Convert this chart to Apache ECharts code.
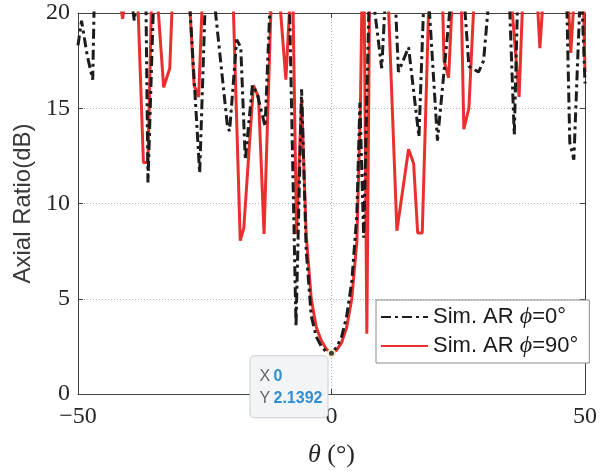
<!DOCTYPE html>
<html>
<head>
<meta charset="utf-8">
<script src="https://cdn.jsdelivr.net/npm/echarts@6/dist/echarts.min.js"></script>
<style>
  html, body { margin: 0; padding: 0; background: #fff; }
  #chart { width: 600px; height: 473px; }
</style>
</head>
<body>
<div id="chart"></div>
<script>
// Simulated axial ratio (dB) against elevation angle theta (deg).
// Samples above 20 dB run off the top of the plot and are clipped.
const arPhi0 = [
  [-50, 18.3], [-49.3, 19.6], [-48.2, 17.8], [-47.1, 16.5], [-46.8, 20.6],
  [-39.4, 20.6], [-38.9, 19.6], [-38.4, 20.6],
  [-36.6, 20.6], [-36.2, 11.1], [-35.1, 20.6],
  [-28.0, 20.6], [-26.0, 11.6], [-24.9, 20.6],
  [-23.1, 20.6], [-20.5, 14.0], [-20.1, 13.8], [-18.7, 18.6], [-17.9, 18.2],
  [-17.0, 12.3], [-15.6, 16.2], [-14.7, 15.8], [-13.1, 14.05], [-12.1, 20.6],
  [-8.3, 20.6], [-7.0, 3.55], [-5.9, 16.0], [-5.0, 7.6], [-4.0, 4.1],
  [-3.0, 3.0], [-2.0, 2.5], [-1.0, 2.2], [0, 2.1392], [1.0, 2.45],
  [2.0, 3.0], [3.0, 4.1], [4.0, 5.9], [5.0, 9.4], [5.6, 15.3],
  [6.35, 8.2], [7.4, 20.6],
  [8.3, 20.6], [9.9, 17.1], [10.6, 20.6],
  [12.6, 20.6], [13.2, 16.9], [15.2, 18.2], [17.25, 13.5], [18.2, 20.6],
  [19.2, 20.6], [20.9, 13.3], [23.5, 20.6],
  [26.2, 20.6], [27.1, 17.2], [29.0, 16.9], [30.0, 17.5], [31.0, 20.6],
  [35.1, 20.6], [36.05, 13.6], [36.7, 20.6],
  [46.4, 20.6], [47.0, 13.2], [47.8, 12.3], [49.0, 20.6],
  [49.4, 20.6], [50, 16.3]
];

const arPhi90 = [
  [-50, 23.0], [-41.7, 20.6], [-41.2, 19.7], [-40.7, 20.6],
  [-38.2, 20.6], [-37.1, 12.15], [-36.2, 12.15], [-35.5, 20.6],
  [-34.3, 20.6], [-33.1, 16.1], [-31.9, 17.1], [-31.4, 20.6],
  [-28.0, 20.6], [-27.1, 16.2], [-26.2, 15.6], [-25.5, 20.6],
  [-19.4, 20.6], [-18.0, 8.05], [-17.3, 8.7], [-15.4, 16.2], [-14.4, 15.6],
  [-13.3, 8.4], [-11.9, 20.6],
  [-10.2, 20.6], [-9.0, 16.5], [-8.2, 20.6],
  [-7.6, 20.6], [-6.9, 8.4], [-5.9, 15.5], [-5.0, 8.4], [-4.0, 5.0],
  [-3.0, 3.5], [-2.0, 2.8], [-1.0, 2.35], [0, 2.1392], [1.0, 2.3],
  [2.0, 2.7], [3.0, 3.5], [4.0, 5.0], [5.0, 8.0], [5.7, 15.0], [6.0, 20.6],
  [6.45, 20.6], [6.97, 3.16], [7.5, 20.6],
  [11.2, 20.6], [12.9, 8.57], [15.2, 12.85], [16.2, 12.1], [17.0, 8.45],
  [17.9, 8.45], [19.2, 20.6],
  [21.9, 20.6], [22.2, 17.5], [23.1, 16.6], [23.8, 20.6],
  [25.6, 20.6], [26.1, 13.9], [27.1, 15.0], [28.1, 20.6],
  [35.5, 20.6], [37.0, 15.6], [37.7, 20.6],
  [40.6, 20.6], [41.1, 18.15], [41.7, 20.6],
  [46.7, 20.6], [47.2, 17.9], [47.8, 20.6],
  [49.7, 20.6], [50, 16.9]
];

const xTicks = [-50, 0, 50];
const yTicks = [0, 5, 10, 15, 20];
const seriesNames = ['Sim. AR ϕ=0°', 'Sim. AR ϕ=90°'];
const seriesColors = ['#1c1c1c', '#ea302e'];

// data tip sits on the boresight sample of the phi = 90 deg curve
const tipPoint = arPhi90.find(p => p[0] === 0);

const frameColor = '#404040';
const serif = 'Liberation Serif';
const sans = 'Liberation Sans';

const fmtTick = v => (v < 0 ? '\u2212' + Math.abs(v) : String(v));

const chart = echarts.init(document.getElementById('chart'), null, { renderer: 'canvas' });

const gridDotted = { show: true, lineStyle: { color: '#b4b4b4', width: 1, type: [1, 2] } };
const lineW = 3;

chart.setOption({
  animation: false,
  grid: { left: 78, right: 13, top: 13, bottom: 78, containLabel: false },
  xAxis: [
    {
      type: 'value', position: 'bottom',
      min: xTicks[0], max: xTicks[xTicks.length - 1], interval: xTicks[1] - xTicks[0],
      axisLine: { show: true, onZero: false, lineStyle: { color: frameColor, width: 1 } },
      axisTick: { show: true, inside: true, length: 5, lineStyle: { color: frameColor } },
      axisLabel: { show: true, margin: 11, fontFamily: serif, fontSize: 24, color: '#262626', formatter: fmtTick },
      splitLine: gridDotted,
      name: '{i|θ} (°)', nameLocation: 'middle', nameGap: 48,
      nameTextStyle: {
        fontFamily: serif, fontSize: 26, color: '#262626',
        rich: { i: { fontFamily: serif, fontStyle: 'italic', fontSize: 26, color: '#262626' } }
      }
    },
    {
      type: 'value', position: 'top',
      min: xTicks[0], max: xTicks[xTicks.length - 1], interval: xTicks[1] - xTicks[0],
      axisLine: { show: true, onZero: false, lineStyle: { color: frameColor, width: 1 } },
      axisTick: { show: true, inside: true, length: 5, lineStyle: { color: frameColor } },
      axisLabel: { show: false }, splitLine: { show: false }
    }
  ],
  yAxis: [
    {
      type: 'value', position: 'left',
      min: yTicks[0], max: yTicks[yTicks.length - 1], interval: yTicks[1] - yTicks[0],
      axisLine: { show: true, onZero: false, lineStyle: { color: frameColor, width: 1 } },
      axisTick: { show: true, inside: true, length: 5, lineStyle: { color: frameColor } },
      axisLabel: { show: true, margin: 8, fontFamily: serif, fontSize: 24, color: '#262626' },
      splitLine: gridDotted,
      name: 'Axial Ratio(dB)', nameLocation: 'middle', nameGap: 40,
      nameTextStyle: { fontFamily: sans, fontSize: 24, color: '#3a3a3a' }
    },
    {
      type: 'value', position: 'right',
      min: yTicks[0], max: yTicks[yTicks.length - 1], interval: yTicks[1] - yTicks[0],
      axisLine: { show: true, onZero: false, lineStyle: { color: frameColor, width: 1 } },
      axisTick: { show: true, inside: true, length: 5, lineStyle: { color: frameColor } },
      axisLabel: { show: false }, splitLine: { show: false }
    }
  ],
  legend: {
    data: seriesNames,
    orient: 'vertical',
    left: 376, top: 300,
    padding: [5, 11, 5, 4],
    itemGap: 5,
    itemWidth: 47, itemHeight: 14,
    backgroundColor: '#fff',
    borderColor: '#8a8a8a', borderWidth: 1, borderRadius: 0,
    itemStyle: { opacity: 0 },
    textStyle: {
      fontFamily: sans, fontSize: 22, color: '#1a1a1a',
      rich: { p: { fontFamily: serif, fontStyle: 'italic', fontSize: 24, color: '#1a1a1a' } }
    },
    formatter: name => name.replace('ϕ', '{p|ϕ}')
  },
  series: [
    {
      name: seriesNames[1], type: 'line', data: arPhi90,
      xAxisIndex: 0, yAxisIndex: 0, z: 2,
      symbol: 'none', showSymbol: false, clip: true,
      lineStyle: { color: seriesColors[1], width: lineW },
      itemStyle: { color: seriesColors[1] },
      emphasis: { disabled: true },
      markPoint: {
        symbol: 'circle', symbolSize: 7,
        z: 10,
        itemStyle: { color: '#3e3e3e', borderColor: '#f1ecbf', borderWidth: 2 },
        label: {
          show: true, position: 'inside', align: 'left', verticalAlign: 'top', offset: [-81, 3],
          width: 58,
          backgroundColor: '#f3f4f6', borderColor: '#cbced3', borderWidth: 1, borderRadius: 4,
          padding: [9, 10, 8, 9], lineHeight: 22,
          formatter: () => `{k|X} {v|${tipPoint[0]}}\n{k|Y} {v|${tipPoint[1]}}`,
          rich: {
            k: { fontFamily: sans, fontSize: 16, color: '#666', lineHeight: 22 },
            v: { fontFamily: sans, fontSize: 16, fontWeight: 'bold', color: '#2f8fd5', lineHeight: 22 }
          }
        },
        emphasis: { disabled: true },
        data: [{ coord: tipPoint, value: tipPoint[1] }]
      }
    },
    {
      name: seriesNames[0], type: 'line', data: arPhi0,
      xAxisIndex: 0, yAxisIndex: 0, z: 3,
      symbol: 'none', showSymbol: false, clip: true,
      lineStyle: { color: seriesColors[0], width: lineW, type: [10, 4, 3, 4] },
      itemStyle: { color: seriesColors[0] },
      emphasis: { disabled: true }
    }
  ]
});
</script>
</body>
</html>
